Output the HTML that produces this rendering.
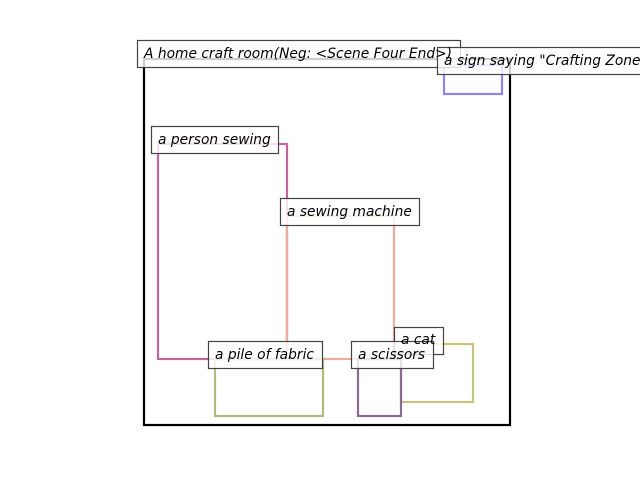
<!DOCTYPE html>
<html><head><meta charset="utf-8"><style>
html,body{margin:0;padding:0;background:#fff;width:640px;height:480px;overflow:hidden}
svg text{font-family:"DejaVu Sans","Liberation Sans",sans-serif;font-style:italic;font-size:13.8px;fill:#000}
</style></head><body>
<svg width="640" height="480" viewBox="0 0 640 480" xmlns="http://www.w3.org/2000/svg">
<g fill="none" stroke-width="2.2">
<rect x="144" y="59" width="366" height="366" stroke="#000"/>
<rect x="444" y="65" width="58" height="29" stroke="#8a86ee"/>
<rect x="158" y="144" width="129" height="215" stroke="#c0669a"/>
<rect x="287" y="216" width="107" height="143" stroke="#eeaa9a"/>
<rect x="215" y="359" width="108" height="57" stroke="#b2ba84"/>
<rect x="401" y="344" width="72" height="58" stroke="#c8c282"/>
<rect x="358" y="359" width="43" height="57" stroke="#8a6a92"/>
</g>
<g fill="#fff" fill-opacity="0.8" stroke="#444" stroke-width="1.2">
<rect x="137.5" y="40.5" width="323" height="27"/>
<rect x="437.5" y="47.5" width="210" height="27"/>
<rect x="151.5" y="126.5" width="127" height="27"/>
<rect x="280.5" y="198.5" width="139" height="27"/>
<rect x="394.5" y="327.5" width="49" height="27"/>
<rect x="208.5" y="341.5" width="114" height="27"/>
<rect x="351.5" y="341.5" width="82" height="27"/>
</g>
<text x="144" y="58">A home craft room(Neg: &lt;Scene Four End&gt;)</text>
<text x="444" y="65">a sign saying "Crafting Zone"</text>
<text x="158" y="144">a person sewing</text>
<text x="287" y="216">a sewing machine</text>
<text x="401" y="344">a cat</text>
<text x="215" y="359">a pile of fabric</text>
<text x="358" y="359">a scissors</text>
</svg>
</body></html>
